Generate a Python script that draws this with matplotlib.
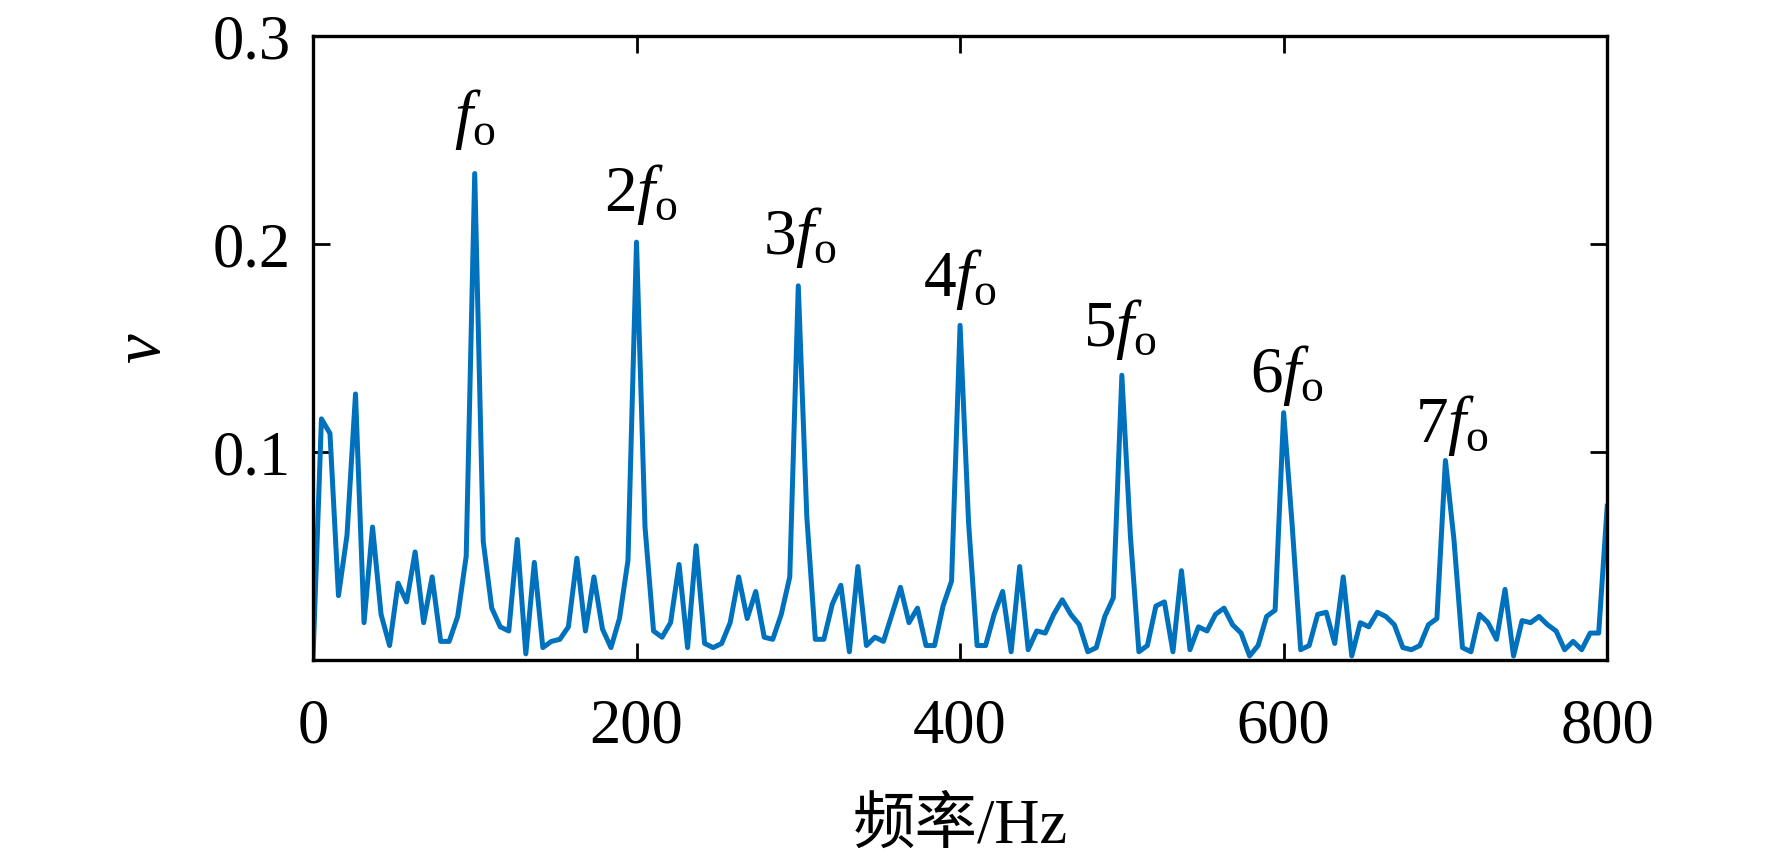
import numpy as np
import matplotlib
matplotlib.use('Agg')
import matplotlib.pyplot as plt

plt.rcParams['font.family'] = ['Liberation Serif', 'Noto Sans CJK SC']
plt.rcParams['mathtext.fontset'] = 'custom'
plt.rcParams['mathtext.rm'] = 'Liberation Serif'
plt.rcParams['mathtext.it'] = 'Liberation Serif:italic'

# spectrum amplitude, 153 bins from 0 to 800 Hz
freq = np.linspace(0, 800, 153)
amp = [0.0, 0.116, 0.109, 0.031, 0.060, 0.128, 0.018, 0.064, 0.022, 0.007,
       0.037, 0.028, 0.052, 0.018, 0.040, 0.009, 0.009, 0.021, 0.050, 0.234,
       0.057, 0.025, 0.016, 0.014, 0.058, 0.003, 0.047, 0.006, 0.009, 0.010,
       0.016, 0.049, 0.014, 0.040, 0.015, 0.006, 0.020, 0.048, 0.201, 0.064,
       0.014, 0.011, 0.018, 0.046, 0.006, 0.055, 0.008, 0.006, 0.008, 0.018,
       0.040, 0.020, 0.033, 0.011, 0.010, 0.022, 0.040, 0.180, 0.069, 0.010,
       0.010, 0.027, 0.036, 0.004, 0.045, 0.007, 0.011, 0.009, 0.022, 0.035,
       0.018, 0.025, 0.007, 0.007, 0.026, 0.038, 0.161, 0.066, 0.007, 0.007,
       0.022, 0.033, 0.004, 0.045, 0.005, 0.014, 0.013, 0.022, 0.029, 0.022,
       0.017, 0.004, 0.006, 0.021, 0.030, 0.137, 0.060, 0.004, 0.007, 0.026,
       0.028, 0.004, 0.043, 0.005, 0.016, 0.014, 0.022, 0.025, 0.017, 0.013,
       0.002, 0.007, 0.021, 0.024, 0.119, 0.065, 0.005, 0.007, 0.022, 0.023,
       0.008, 0.040, 0.002, 0.018, 0.016, 0.023, 0.021, 0.017, 0.006, 0.005,
       0.007, 0.017, 0.020, 0.096, 0.058, 0.006, 0.004, 0.022, 0.018, 0.010,
       0.034, 0.002, 0.019, 0.018, 0.021, 0.017, 0.014, 0.005, 0.009, 0.005,
       0.013, 0.013, 0.074]

# harmonic labels
label_text = [r'$f_{\mathrm{o}}$', r'$2f_{\mathrm{o}}$', r'$3f_{\mathrm{o}}$',
              r'$4f_{\mathrm{o}}$', r'$5f_{\mathrm{o}}$', r'$6f_{\mathrm{o}}$',
              r'$7f_{\mathrm{o}}$']
label_x = [100, 203, 301, 400, 499, 602, 704]
label_y = [0.260, 0.224, 0.203, 0.183, 0.159, 0.137, 0.113]

fig = plt.figure(figsize=(17.72, 8.64), dpi=100)
ax = fig.add_axes([0.1766, 0.236, 0.7304, 0.722])

ax.plot(freq, amp, color='#0072BD', lw=3.6)

for txt, lx, ly in zip(label_text, label_x, label_y):
    ax.text(lx, ly, txt, fontsize=47, ha='center', va='center')

ax.set_xlim(0, 800)
ax.set_ylim(0, 0.3)
ax.set_xticks([0, 200, 400, 600, 800])
ax.set_yticks([0.1, 0.2, 0.3])
ax.tick_params(direction='in', length=12, width=2, top=True, right=True,
               labelsize=45)
ax.tick_params(axis='x', pad=28)
ax.tick_params(axis='y', pad=16)
for s in ax.spines.values():
    s.set_linewidth(2.4)

ax.set_xlabel('频率/Hz', fontsize=45, labelpad=30)
ax.set_ylabel(r'$v$', fontsize=48, labelpad=28)

fig.savefig('out.png', dpi=100)
